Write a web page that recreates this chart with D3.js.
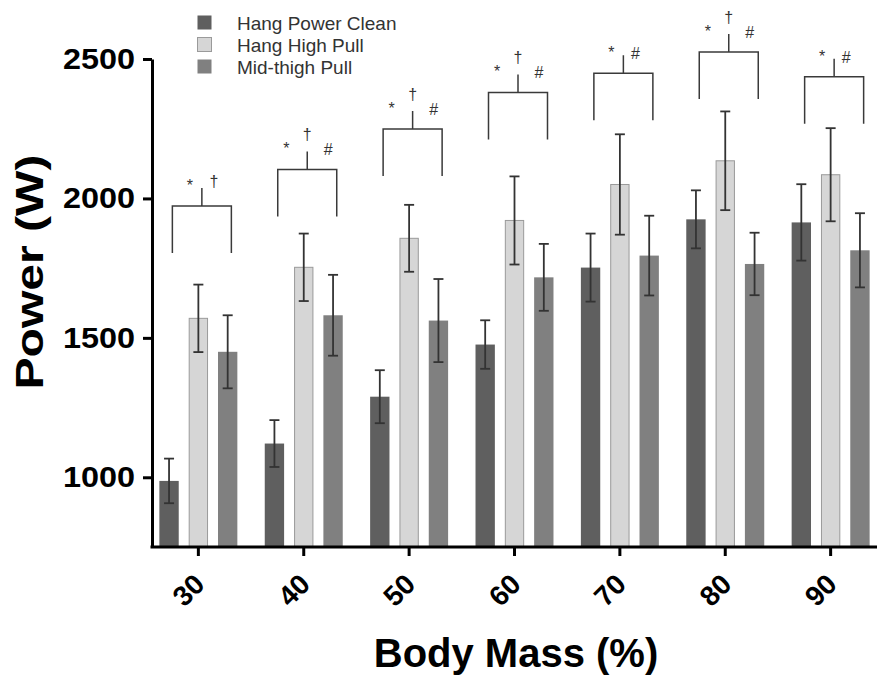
<!DOCTYPE html>
<html>
<head>
<meta charset="utf-8">
<script src="https://cdn.jsdelivr.net/npm/d3@7/dist/d3.min.js"></script>
<style>
    body { margin: 0; background: #fff; }
    svg { display: block; font-family: "Liberation Sans", Arial, sans-serif; }
</style>
</head>
<body>
<svg id="chart"></svg>
<script>
var width = 877,
    height = 685,
    left = 152,
    bottom = 547;

// data
var categories = ["30", "40", "50", "60", "70", "80", "90"],
    series = ["Hang Power Clean", "Hang High Pull", "Mid-thigh Pull"],
    powerClean = [987, 1121, 1289, 1476, 1752, 1925, 1914],
    powerCleanErr = [80, 84, 95, 87, 122, 104, 137],
    highPull = [1570, 1753, 1857, 1921, 2050, 2135, 2085],
    highPullErr = [121, 121, 120, 158, 180, 177, 167],
    midThigh = [1450, 1581, 1562, 1717, 1795, 1765, 1814],
    midThighErr = [131, 145, 149, 120, 143, 112, 133],
    bracketTop = [1973, 2104, 2249, 2380, 2449, 2525, 2436],
    marks = [["*", "", "\u2020"], ["*", "\u2020", "#"], ["*", "\u2020", "#"], ["*", "\u2020", "#"],
             ["*", "", "#"], ["*", "\u2020", "#"], ["*", "", "#"]],
    yTicks = [1000, 1500, 2000, 2500];

var fills = ["#5f5f5f", "#d6d6d6", "#808080"],
    strokes = ["none", "#9a9a9a", "none"];

var svg = d3.select("#chart").attr("width", width).attr("height", height);

var x0 = d3.scaleBand()
        .domain(categories)
        .range([left, width])
        .paddingInner(0.26)
        .paddingOuter(0.07),
    x1 = d3.scaleBand()
        .domain(series)
        .range([0, x0.bandwidth()])
        .paddingInner(0.34),
    y = d3.scaleLinear()
        .domain([750, 2500])
        .range([bottom, 59]);

var rows = categories.map(function(c, i) {
    return {
        cat: c,
        vals: [
            {s: series[0], v: powerClean[i], e: powerCleanErr[i], k: 0},
            {s: series[1], v: highPull[i], e: highPullErr[i], k: 1},
            {s: series[2], v: midThigh[i], e: midThighErr[i], k: 2}
        ]
    };
});

var groups = svg.selectAll("g.cat")
    .data(rows)
    .enter().append("g")
    .attr("class", "cat")
    .attr("transform", d => "translate(" + x0(d.cat) + ",0)");

groups.selectAll("rect")
    .data(d => d.vals)
    .enter().append("rect")
    .attr("x", d => x1(d.s) + (d.k == 1 ? 0.5 : 0))
    .attr("width", d => x1.bandwidth() - (d.k == 1 ? 1 : 0))
    .attr("y", d => y(d.v))
    .attr("height", d => bottom - y(d.v))
    .attr("fill", d => fills[d.k])
    .attr("stroke", d => strokes[d.k])
    .attr("stroke-width", 1);

// error bars
var errs = groups.selectAll("g.err")
    .data(d => d.vals)
    .enter().append("g")
    .attr("class", "err")
    .attr("stroke", "#333")
    .attr("stroke-width", 1.8);

errs.append("line")
    .attr("x1", d => x1(d.s) + x1.bandwidth() / 2)
    .attr("x2", d => x1(d.s) + x1.bandwidth() / 2)
    .attr("y1", d => y(d.v + d.e))
    .attr("y2", d => y(d.v - d.e));

[1, -1].forEach(function(sign) {
    errs.append("line")
        .attr("x1", d => x1(d.s) + x1.bandwidth() / 2 - 5)
        .attr("x2", d => x1(d.s) + x1.bandwidth() / 2 + 5)
        .attr("y1", d => y(d.v + sign * d.e))
        .attr("y2", d => y(d.v + sign * d.e));
});

// significance brackets
var brackets = svg.selectAll("g.bracket")
    .data(categories)
    .enter().append("g")
    .attr("class", "bracket");

brackets.append("path")
    .attr("fill", "none")
    .attr("stroke", "#3a3a3a")
    .attr("stroke-width", 1.5)
    .attr("d", function(c, i) {
        var cx = x0(c) + x0.bandwidth() / 2,
            top = y(bracketTop[i]);
        return "M" + (cx - 26) + "," + (top + 47) + "V" + top + "H" + (cx + 33) + "V" + (top + 47)
            + "M" + (cx + 3.5) + "," + top + "V" + (top - 18);
    });

brackets.each(function(c, i) {
    var cx = x0(c) + x0.bandwidth() / 2 + 3.5,
        top = y(bracketTop[i]),
        m = marks[i],
        off = m[1] ? 21 : 12,
        g = d3.select(this);
    var sideDrop = {"*": 15, "#": 14, "\u2020": 19};
    if (m[0]) g.append("text").attr("x", cx - off).attr("y", top - sideDrop[m[0]]).text(m[0]);
    if (m[1]) g.append("text").attr("x", cx).attr("y", top - 29).text(m[1]);
    if (m[2]) g.append("text").attr("x", cx + off).attr("y", top - sideDrop[m[2]]).text(m[2]);
    g.selectAll("text")
        .attr("text-anchor", "middle")
        .attr("font-size", 16)
        .attr("fill", "#333");
});

// axes
var yAxis = svg.append("g")
    .attr("transform", "translate(" + left + ",0)")
    .call(d3.axisLeft(y).tickValues(yTicks).tickSize(9).tickSizeOuter(0).tickPadding(8).tickFormat(d3.format("d")));

yAxis.selectAll("path, line").attr("stroke", "#000").attr("stroke-width", 3);
yAxis.selectAll("text")
    .attr("font-size", 29)
    .attr("font-weight", "bold")
    .attr("font-family", "Liberation Sans, Arial, sans-serif")
    .attr("fill", "#000")
    .attr("textLength", 72)
    .attr("lengthAdjust", "spacingAndGlyphs");

var xAxis = svg.append("g")
    .attr("transform", "translate(0," + bottom + ")")
    .call(d3.axisBottom(x0).tickSize(9).tickSizeOuter(0));

xAxis.select(".domain").attr("d", "M" + (left - 1.5) + ",0H" + width);
xAxis.selectAll("path, line").attr("stroke", "#000").attr("stroke-width", 3);
xAxis.selectAll("text")
    .attr("font-size", 28)
    .attr("font-weight", "bold")
    .attr("font-family", "Liberation Sans, Arial, sans-serif")
    .attr("fill", "#000")
    .attr("text-anchor", "end")
    .attr("y", 0)
    .attr("dy", 0)
    .attr("transform", "translate(8,39) rotate(-45)");

// axis titles
svg.append("text")
    .attr("transform", "translate(43,272) rotate(-90)")
    .attr("text-anchor", "middle")
    .attr("font-size", 39)
    .attr("font-weight", "bold")
    .attr("textLength", 235)
    .attr("lengthAdjust", "spacingAndGlyphs")
    .text("Power (W)");

svg.append("text")
    .attr("x", 516)
    .attr("y", 667)
    .attr("text-anchor", "middle")
    .attr("font-size", 40)
    .attr("font-weight", "bold")
    .text("Body Mass (%)");

// legend
var legend = svg.selectAll("g.legend")
    .data(series)
    .enter().append("g")
    .attr("class", "legend")
    .attr("transform", (d, i) => "translate(197," + (30 + i * 22) + ")");

legend.append("rect")
    .attr("x", 0.5)
    .attr("y", -14.5)
    .attr("width", 14)
    .attr("height", 14)
    .attr("fill", (d, i) => fills[i])
    .attr("stroke", (d, i) => strokes[i]);

legend.append("text")
    .attr("x", 40)
    .attr("font-size", 19)
    .attr("fill", "#333")
    .text(d => d);
</script>
</body>
</html>
